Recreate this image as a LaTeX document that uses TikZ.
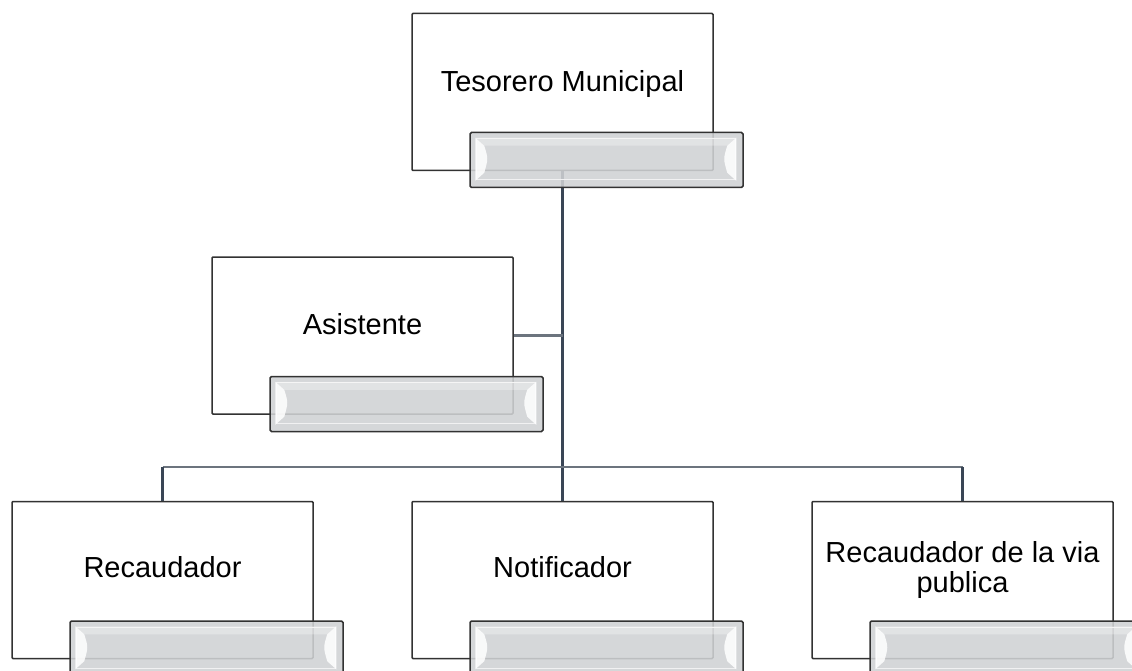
\documentclass[tikz,border=0pt]{standalone}
\usepackage{fontspec}
\setmainfont{Liberation Sans}
\definecolor{barfill}{RGB}{208,210,212}
\definecolor{vcol}{RGB}{58,70,86}
\definecolor{hcol}{RGB}{108,116,126}
\definecolor{edge}{RGB}{50,50,50}
\newcommand\bevelbar[1]{%
  \begin{scope}[shift={(#1.north west)}]
    \draw[white!70!barfill, line width=0.8pt] (7,7) rectangle (266,48);
    \fill[white, opacity=0.85] (6,6) -- (15,14) .. controls (19,27) .. (15,41) -- (6,49) -- cycle;
    \fill[white, opacity=0.85] (267,6) -- (258,14) .. controls (254,27) .. (258,41) -- (267,49) -- cycle;
    \fill[white, opacity=0.3] (6,6) -- (267,6) -- (258,14) -- (15,14) -- cycle;
  \end{scope}}
\begin{document}
\begin{tikzpicture}[x=1pt,y=-1pt,
  box/.style={draw=edge, line width=1.5pt, fill=white, rounded corners=1pt,
    minimum width=301pt, minimum height=157pt, inner sep=0pt},
  bar/.style={draw=edge, line width=1.5pt, fill=barfill, fill opacity=0.88,
    rounded corners=1.5pt, minimum width=273pt, minimum height=55pt, inner sep=0pt},
  lbl/.style={font=\fontsize{29}{29.5}\selectfont, align=center, anchor=base, inner sep=0pt},
  vline/.style={draw=vcol, line width=2.2pt},
  hline/.style={draw=hcol, line width=2.2pt}]
\useasboundingbox (0,0) rectangle (1132,671);
\clip (0,0) rectangle (1132,671);
\fill[white] (0,0) rectangle (1132,671);
% boxes
\node[box] (tes) at (562.5,92) {};
\node[box] (asi) at (362.5,335.5) {};
\node[box] (rec) at (162.5,580) {};
\node[box] (not) at (562.5,580) {};
\node[box] (rvp) at (962.5,580) {};
% connectors
\coordinate (hb) at (562,467);
\draw[vline] (tes.south) -- (not.north);
\draw[hline] (asi.east) -- (asi.east -| tes.south);
\draw[hline] (rec.north |- hb) -- (rvp.north |- hb);
\draw[vline] (rec.north |- hb) -- (rec.north);
\draw[vline] (rvp.north |- hb) -- (rvp.north);
% bars
\node[bar] (tesb) at (606.5,160) {};
\node[bar] (asib) at (406.5,404) {};
\node[bar] (recb) at (206.5,648.5) {};
\node[bar] (notb) at (606.5,648.5) {};
\node[bar] (rvpb) at (1006.5,648.5) {};
\bevelbar{tesb}
\bevelbar{asib}
\bevelbar{recb}
\bevelbar{notb}
\bevelbar{rvpb}
% labels
\node[lbl] (tes-t) at (562.5,92) {Tesorero Municipal};
\node[lbl] (asi-t) at (362.5,334) {Asistente};
\node[lbl] (rec-t) at (162.5,577) {Recaudador};
\node[lbl] (not-t) at (562.5,577) {Notificador};
\node[lbl] (rvp-t) at (962.5,592) {Recaudador de la via\\publica};
\end{tikzpicture}
\end{document}
